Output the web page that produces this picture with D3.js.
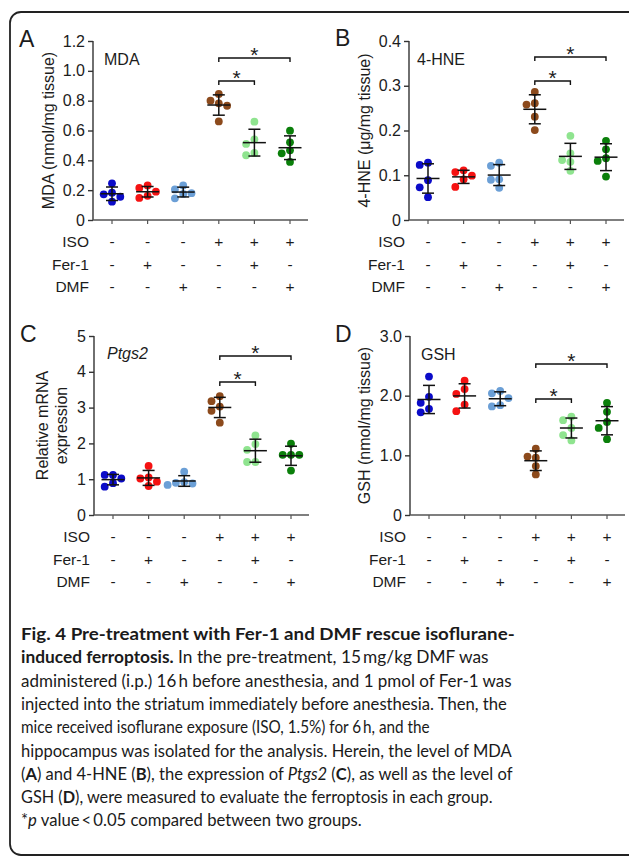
<!DOCTYPE html>
<html>
<head>
<meta charset="utf-8">
<script src="https://cdn.jsdelivr.net/npm/d3@7"></script>
<style>
  body { margin: 0; background: #fff; }
  svg { display: block; }
</style>
</head>
<body>
<div id="chart"></div>
<script>
// Fig. 4 - Fer-1 / DMF pre-treatment, four scatter panels + caption

// ── Data ────────────────────────────────────────────────────────────────────
const rowNames = ["ISO", "Fer-1", "DMF"];
const isoRow   = ["-", "-", "-", "+", "+", "+"];
const fer1Row  = ["-", "+", "-", "-", "+", "-"];
const dmfRow   = ["-", "-", "+", "-", "-", "+"];

const groupColors = ["#0b0bc8", "#f51212", "#6b9fd6", "#8c4a1c", "#8fe48f", "#0a7f0a"];

const mdaValues = [
  [0.246, 0.183, 0.172, 0.156, 0.123],
  [0.232, 0.215, 0.190, 0.162, 0.148],
  [0.232, 0.205, 0.180, 0.175, 0.145],
  [0.845, 0.800, 0.782, 0.766, 0.661],
  [0.659, 0.541, 0.510, 0.449, 0.434],
  [0.599, 0.521, 0.467, 0.447, 0.389]
];
const hneValues = [
  [0.128, 0.123, 0.089, 0.073, 0.051],
  [0.111, 0.107, 0.099, 0.091, 0.074],
  [0.128, 0.121, 0.091, 0.090, 0.072],
  [0.286, 0.261, 0.258, 0.231, 0.201],
  [0.188, 0.149, 0.134, 0.130, 0.110],
  [0.177, 0.158, 0.138, 0.132, 0.097]
];
const ptgs2Values = [
  [1.12, 1.12, 1.02, 0.89, 0.79],
  [1.37, 1.05, 1.02, 0.93, 0.81],
  [1.21, 0.92, 0.90, 0.88, 0.84],
  [3.32, 3.18, 3.03, 2.91, 2.58],
  [2.22, 1.98, 1.82, 1.48, 1.48],
  [1.99, 1.68, 1.68, 1.68, 1.24]
];
const gshValues = [
  [2.32, 1.98, 1.88, 1.78, 1.72],
  [2.25, 2.11, 2.03, 1.85, 1.74],
  [2.08, 2.04, 1.96, 1.84, 1.82],
  [1.11, 0.98, 0.96, 0.82, 0.68],
  [1.65, 1.59, 1.46, 1.34, 1.25],
  [1.88, 1.73, 1.56, 1.46, 1.27]
];

const mdaTicks   = [0, 0.2, 0.4, 0.6, 0.8, 1.0, 1.2];
const hneTicks   = [0, 0.1, 0.2, 0.3, 0.4];
const ptgs2Ticks = [0, 1, 2, 3, 4, 5];
const gshTicks   = [0, 1, 2, 3];

// significance brackets (group index pairs), upper one first
const comparisons = [[3, 5], [3, 4]];

const captionLines = [
  [["Fig. 4 Pre-treatment with Fer-1 and DMF rescue isoflurane-", "b"]],
  [["induced ferroptosis.", "b"], [" In the pre-treatment, 15\u2009mg/kg DMF was", ""]],
  [["administered (i.p.) 16\u2009h before anesthesia, and 1 pmol of Fer-1 was", ""]],
  [["injected into the striatum immediately before anesthesia. Then, the", ""]],
  [["mice received isoflurane exposure (ISO, 1.5%) for 6\u2009h, and the", ""]],
  [["hippocampus was isolated for the analysis. Herein, the level of MDA", ""]],
  [["(", ""], ["A", "b"], [") and 4-HNE (", ""], ["B", "b"], ["), the expression of ", ""],
   ["Ptgs2", "i"], [" (", ""], ["C", "b"], ["), as well as the level of", ""]],
  [["GSH (", ""], ["D", "b"], ["), were measured to evaluate the ferroptosis in each group.", ""]],
  [["*", ""], ["p", "i"], [" value\u2009<\u20090.05 compared between two groups.", ""]]
];

// ── Layout ──────────────────────────────────────────────────────────────────
const W = 629, H = 856;
const FONT = "'Liberation Sans', Arial, sans-serif";
const ink = "#1c1c1c";
const dotR = 3.9, swarmStep = 8.3;

const fmtDec = d => d === 0 ? "0" : d3.format(".1f")(d);
const fmtInt = d3.format("d");

const panels = [
  { letter: "A", title: "MDA", italic: false, yLabel: ["MDA (nmol/mg tissue)"], values: mdaValues,
    ticks: mdaTicks, fmt: fmtDec, axisX: 93, top: 41, bottom: 220,
    letterPos: [19, 47], titlePos: [104, 65], labelX: [48], brackets: [58, 81] },
  { letter: "B", title: "4-HNE", italic: false, yLabel: ["4-HNE (\u03bcg/mg tissue)"], values: hneValues,
    ticks: hneTicks, fmt: fmtDec, axisX: 409, top: 41, bottom: 220,
    letterPos: [335, 46], titlePos: [417, 65], labelX: [364], brackets: [57, 81] },
  { letter: "C", title: "Ptgs2", italic: true, yLabel: ["Relative mRNA", "expression"], values: ptgs2Values,
    ticks: ptgs2Ticks, fmt: fmtInt, axisX: 94, top: 336, bottom: 515,
    letterPos: [20, 342], titlePos: [107, 359], labelX: [42, 61], brackets: [356, 382] },
  { letter: "D", title: "GSH", italic: false, yLabel: ["GSH (nmol/mg tissue)"], values: gshValues,
    ticks: gshTicks, fmt: fmtDec, axisX: 410, top: 336, bottom: 515,
    letterPos: [335, 342], titlePos: [421, 360], labelX: [364], brackets: [364, 399] }
];

const svg = d3.select("#chart").append("svg")
  .attr("width", W).attr("height", H);

// frame (only left part visible in the crop)
svg.append("path")
  .attr("d", `M ${W + 10} 12 H 21 A 11 11 0 0 0 10 23 V 844 A 11 11 0 0 0 21 855 H ${W + 10}`)
  .attr("fill", "none").attr("stroke", "#222").attr("stroke-width", 1.8);

// simple column beeswarm: dots that would overlap move left / right
function swarm(vals, y) {
  const pts = vals.map(v => ({ v, py: y(v) })).sort((a, b) => a.py - b.py);
  const placed = [];
  pts.forEach(p => {
    for (const k of [0, -1, 1, -2, 2]) {
      const hit = placed.some(q => q.k === k && Math.abs(q.py - p.py) < dotR * 2);
      if (!hit) { p.k = k; break; }
    }
    placed.push(p);
  });
  return placed;
}

function drawPanel(cfg) {
  const g = svg.append("g");
  const yMax = cfg.ticks[cfg.ticks.length - 1];
  const y = d3.scaleLinear().domain([0, yMax]).range([cfg.bottom, cfg.top]);
  const x = d3.scalePoint().domain(d3.range(6))
    .range([cfg.axisX + 19, cfg.axisX + 197]);
  const xEnd = cfg.axisX + 215;

  // y axis
  const yAxis = g.append("g")
    .attr("transform", `translate(${cfg.axisX},0)`)
    .call(d3.axisLeft(y).tickValues(cfg.ticks).tickFormat(cfg.fmt).tickSize(5).tickPadding(3));
  yAxis.select(".domain").attr("stroke", "#333").attr("stroke-width", 1.4)
    .attr("d", `M0,${cfg.top}V${cfg.bottom}`);
  yAxis.selectAll(".tick line").attr("stroke", "#333").attr("stroke-width", 1.4);
  yAxis.selectAll(".tick text").attr("fill", ink)
    .style("font-family", FONT).style("font-size", "16px");

  // x axis with small ticks under each group
  g.append("line")
    .attr("x1", cfg.axisX).attr("x2", xEnd)
    .attr("y1", cfg.bottom).attr("y2", cfg.bottom)
    .attr("stroke", "#555").attr("stroke-width", 1.4);
  g.selectAll(".xtick").data(d3.range(6)).join("line")
    .attr("x1", d => x(d)).attr("x2", d => x(d))
    .attr("y1", cfg.bottom).attr("y2", cfg.bottom + 4)
    .attr("stroke", "#555").attr("stroke-width", 1.2);

  // dots
  cfg.values.forEach((vals, gi) => {
    const pts = swarm(vals, y);
    g.selectAll(null).data(pts).join("circle")
      .attr("cx", d => x(gi) + d.k * swarmStep)
      .attr("cy", d => d.py)
      .attr("r", dotR)
      .attr("fill", groupColors[gi]);
  });

  // mean ± SD
  cfg.values.forEach((vals, gi) => {
    const m = d3.mean(vals), sd = d3.deviation(vals);
    const cx = x(gi);
    const bar = g.append("g").attr("stroke", "#111").attr("stroke-width", 1.5);
    bar.append("line").attr("x1", cx).attr("x2", cx).attr("y1", y(m + sd)).attr("y2", y(m - sd));
    bar.append("line").attr("x1", cx - 11.5).attr("x2", cx + 11.5).attr("y1", y(m)).attr("y2", y(m));
    [m + sd, m - sd].forEach(v => {
      bar.append("line").attr("x1", cx - 6).attr("x2", cx + 6).attr("y1", y(v)).attr("y2", y(v));
    });
  });

  // significance brackets
  comparisons.forEach((pair, i) => {
    const by = cfg.brackets[i];
    const x1 = x(pair[0]), x2 = x(pair[1]);
    g.append("path")
      .attr("d", `M${x1},${by + 4}V${by}H${x2}V${by + 4}`)
      .attr("fill", "none").attr("stroke", "#111").attr("stroke-width", 1.4);
    g.append("text")
      .attr("x", (x1 + x2) / 2).attr("y", by + 4)
      .attr("text-anchor", "middle")
      .style("font-family", FONT).style("font-size", "21px").attr("fill", ink)
      .text("*");
  });

  // treatment rows
  [isoRow, fer1Row, dmfRow].forEach((row, ri) => {
    const ty = cfg.bottom + 27 + ri * 22.5;
    g.append("text")
      .attr("x", cfg.axisX - 4).attr("y", ty)
      .attr("text-anchor", "end")
      .style("font-family", FONT).style("font-size", "15.5px").attr("fill", ink)
      .text(rowNames[ri]);
    g.selectAll(null).data(row).join("text")
      .attr("x", (d, i) => x(i)).attr("y", ty)
      .attr("text-anchor", "middle")
      .style("font-family", FONT).style("font-size", "15.5px").attr("fill", ink)
      .text(d => d);
  });

  // y label
  const midY = (cfg.top + cfg.bottom) / 2;
  cfg.yLabel.forEach((lab, i) => {
    g.append("text")
      .attr("transform", `translate(${cfg.labelX[i]},${midY}) rotate(-90)`)
      .attr("text-anchor", "middle")
      .attr("dy", "0.35em")
      .style("font-family", FONT).style("font-size", "16px").attr("fill", ink)
      .text(lab);
  });

  // inner title + panel letter
  g.append("text")
    .attr("x", cfg.titlePos[0]).attr("y", cfg.titlePos[1])
    .style("font-family", FONT).style("font-size", "16px")
    .style("font-style", cfg.italic ? "italic" : "normal").attr("fill", ink)
    .text(cfg.title);
  g.append("text")
    .attr("x", cfg.letterPos[0]).attr("y", cfg.letterPos[1])
    .style("font-family", FONT).style("font-size", "23px").attr("fill", ink)
    .text(cfg.letter);
}

panels.forEach(drawPanel);

// ── Caption ─────────────────────────────────────────────────────────────────
// each line is squeezed horizontally to the width it has in the figure
const capX = 21, capY0 = 640, capStep = 23.3;
const capWidths = [494, 468, 491, 486, 409, 491, 492, 472, 341];

captionLines.forEach((segs, li) => {
  const t = svg.append("text")
    .style("font-family", "Lato, 'Open Sans', sans-serif")
    .style("font-size", "17.5px").attr("fill", "#1a1a1a");
  segs.forEach(([txt, st]) => {
    t.append("tspan")
      .style("font-weight", st === "b" ? "bold" : "normal")
      .style("font-style", st === "i" ? "italic" : "normal")
      .text(txt);
  });
  const natural = t.node().getComputedTextLength();
  const sx = capWidths[li] / natural;
  t.attr("transform", `translate(${capX},${capY0 + li * capStep}) scale(${sx},1)`);
});
</script>
</body>
</html>
